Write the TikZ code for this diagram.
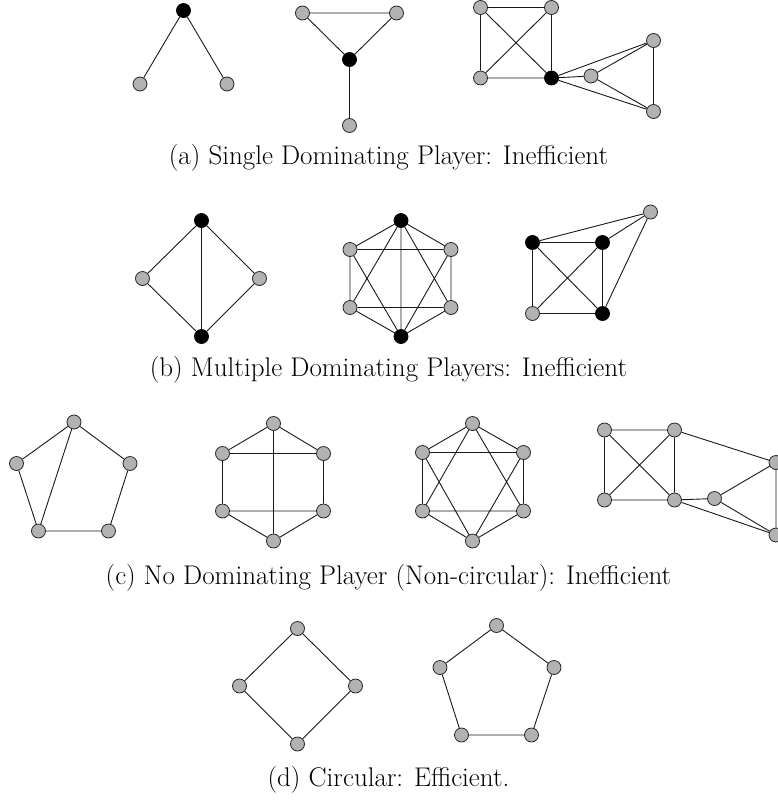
\documentclass[tikz,border=0pt]{standalone}
\usepackage{fontspec}
\begin{document}
\begin{tikzpicture}[x=1pt,y=-1pt,
  g/.style={circle,draw=black!85,fill=gray!60,line width=0.8pt,minimum size=14pt,inner sep=0pt},
  k/.style={circle,draw=black,fill=black,line width=0.8pt,minimum size=14pt,inner sep=0pt},
  e/.style={line width=0.9pt,black!90},
  captext/.style={anchor=base,font=\fontsize{27}{32}\selectfont,inner sep=0pt}]
\useasboundingbox (0,0) rectangle (777,801);
% (a)
\node[k] (a1t) at (183.5,10.5) {};
\node[g] (a1l) at (140,84) {};
\node[g] (a1r) at (227,84) {};
\draw[e] (a1t)--(a1l) (a1t)--(a1r);
\node[g] (a2l) at (302.5,13) {};
\node[g] (a2r) at (396.5,13) {};
\node[k] (a2c) at (349.5,59.5) {};
\node[g] (a2b) at (349.5,125.5) {};
\draw[e] (a2l)--(a2r) (a2l)--(a2c) (a2r)--(a2c) (a2c)--(a2b);
\node[g] (a3tl) at (480.5,7.5) {};
\node[g] (a3tr) at (551.5,7.5) {};
\node[g] (a3bl) at (480.5,78) {};
\node[k] (a3br) at (551.5,78) {};
\node[g] (a3m) at (591,76) {};
\node[g] (a3rt) at (653.5,40.5) {};
\node[g] (a3rb) at (653.5,111.5) {};
\draw[e] (a3tl)--(a3tr) (a3tl)--(a3bl) (a3tr)--(a3br) (a3bl)--(a3br) (a3tl)--(a3br) (a3tr)--(a3bl)
  (a3br)--(a3m) (a3br)--(a3rt) (a3br)--(a3rb) (a3m)--(a3rt) (a3m)--(a3rb) (a3rt)--(a3rb);
\node[captext] (capa) at (388.5,164) {(a) Single Dominating Player: Inefficient};
% (b)
\node[k] (b1t) at (201.5,220.5) {};
\node[g] (b1l) at (142.5,278.5) {};
\node[g] (b1r) at (259.5,278.5) {};
\node[k] (b1b) at (201.5,336.5) {};
\draw[e] (b1t)--(b1l) (b1t)--(b1r) (b1t)--(b1b) (b1l)--(b1b) (b1r)--(b1b);
\node[k] (b2t) at (401,220.5) {};
\node[g] (b2ul) at (350,249.5) {};
\node[g] (b2ur) at (451,249.5) {};
\node[g] (b2ll) at (350,307.5) {};
\node[g] (b2lr) at (451,307.5) {};
\node[k] (b2b) at (401,336.5) {};
\draw[e] (b2t)--(b2ul) (b2ul)--(b2ll) (b2ll)--(b2b) (b2b)--(b2lr) (b2lr)--(b2ur) (b2ur)--(b2t)
  (b2ul)--(b2ur) (b2ll)--(b2lr) (b2t)--(b2ll) (b2t)--(b2lr) (b2b)--(b2ul) (b2b)--(b2ur) (b2t)--(b2b);
\node[k] (b3tl) at (532.5,242.5) {};
\node[k] (b3tr) at (602.5,242.5) {};
\node[g] (b3bl) at (532.5,313.5) {};
\node[k] (b3br) at (602.5,313.5) {};
\node[g] (b3f) at (650.5,212) {};
\draw[e] (b3tl)--(b3tr) (b3tl)--(b3bl) (b3tr)--(b3br) (b3bl)--(b3br) (b3tl)--(b3br) (b3tr)--(b3bl)
  (b3f)--(b3tl) (b3f)--(b3tr) (b3f)--(b3br);
\node[captext] (capb) at (388.5,376) {(b) Multiple Dominating Players: Inefficient};
% (c)
\node[g] (c1t) at (74,422) {};
\node[g] (c1l) at (16.5,463.5) {};
\node[g] (c1r) at (130,463.5) {};
\node[g] (c1bl) at (38.5,531) {};
\node[g] (c1br) at (108.5,531) {};
\draw[e] (c1t)--(c1l) (c1t)--(c1r) (c1l)--(c1bl) (c1r)--(c1br) (c1bl)--(c1br) (c1t)--(c1bl);
\node[g] (c2t) at (273.5,423.5) {};
\node[g] (c2ul) at (222.5,453.5) {};
\node[g] (c2ur) at (323.5,453.5) {};
\node[g] (c2ll) at (222.5,511) {};
\node[g] (c2lr) at (323.5,511) {};
\node[g] (c2b) at (273.5,541) {};
\draw[e] (c2t)--(c2ul) (c2ul)--(c2ll) (c2ll)--(c2b) (c2b)--(c2lr) (c2lr)--(c2ur) (c2ur)--(c2t)
  (c2ul)--(c2ur) (c2ll)--(c2lr) (c2t)--(c2b);
\node[g] (c3t) at (472.5,423.5) {};
\node[g] (c3ul) at (422.5,452.5) {};
\node[g] (c3ur) at (523.5,452.5) {};
\node[g] (c3ll) at (422.5,511) {};
\node[g] (c3lr) at (523.5,511) {};
\node[g] (c3b) at (472.5,541) {};
\draw[e] (c3t)--(c3ul) (c3ul)--(c3ll) (c3ll)--(c3b) (c3b)--(c3lr) (c3lr)--(c3ur) (c3ur)--(c3t)
  (c3ul)--(c3ur) (c3ll)--(c3lr) (c3t)--(c3ll) (c3t)--(c3lr) (c3b)--(c3ul) (c3b)--(c3ur);
\node[g] (c4tl) at (604.5,430) {};
\node[g] (c4tr) at (674.5,430) {};
\node[g] (c4bl) at (604.5,500) {};
\node[g] (c4br) at (674.5,500) {};
\node[g] (c4m) at (714.5,498.5) {};
\node[g] (c4rt) at (776,462.5) {};
\node[g] (c4rb) at (776,535) {};
\draw[e] (c4tl)--(c4tr) (c4tl)--(c4bl) (c4tr)--(c4br) (c4bl)--(c4br) (c4tl)--(c4br) (c4tr)--(c4bl)
  (c4tr)--(c4rt) (c4br)--(c4m) (c4br)--(c4rb) (c4m)--(c4rt) (c4m)--(c4rb) (c4rt)--(c4rb);
\node[captext] (capc) at (388.5,584) {(c) No Dominating Player (Non-circular): Inefficient};
% (d)
\node[g] (d1t) at (297.5,628.5) {};
\node[g] (d1l) at (239.5,686) {};
\node[g] (d1r) at (355.5,686) {};
\node[g] (d1b) at (297.5,744) {};
\draw[e] (d1t)--(d1l) (d1l)--(d1b) (d1b)--(d1r) (d1r)--(d1t);
\node[g] (d2t) at (496.5,625.5) {};
\node[g] (d2l) at (440,667.5) {};
\node[g] (d2r) at (554,667.5) {};
\node[g] (d2bl) at (461.5,735) {};
\node[g] (d2br) at (531.5,735) {};
\draw[e] (d2t)--(d2l) (d2l)--(d2bl) (d2bl)--(d2br) (d2br)--(d2r) (d2r)--(d2t);
\node[captext] (capd) at (388.5,786) {(d) Circular: Efficient.};
\end{tikzpicture}
\end{document}
